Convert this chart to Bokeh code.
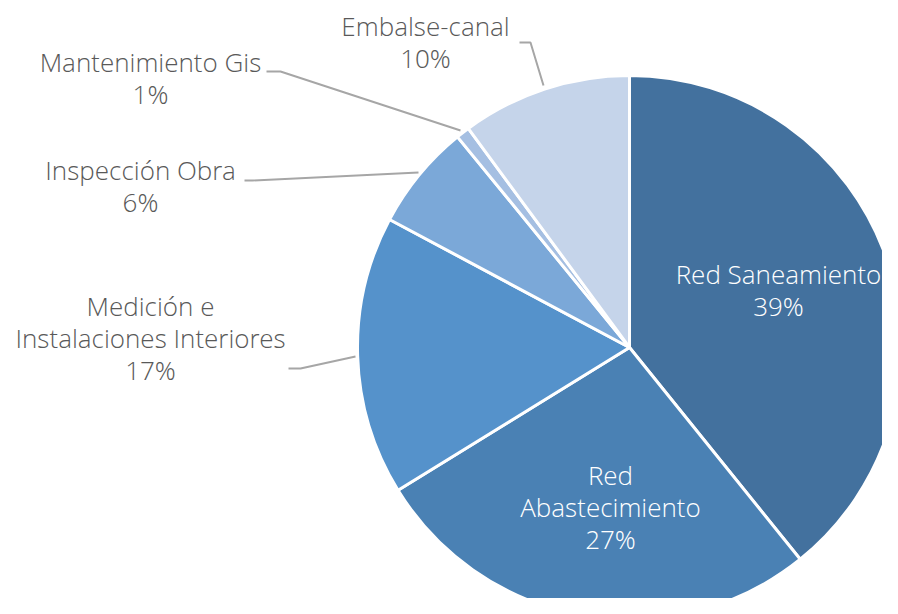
import math
from bokeh.plotting import figure
from bokeh.models import Range1d, ColumnDataSource
from bokeh.core.properties import value
from bokeh.embed import file_html
from bokeh.resources import INLINE

# ---- data ----
categories = ["Red Saneamiento", "Red Abastecimiento",
              "Medición e Instalaciones Interiores", "Inspección Obra",
              "Mantenimiento Gis", "Embalse-canal"]
label_lines = [["Red Saneamiento"], ["Red", "Abastecimiento"],
               ["Medición e", "Instalaciones Interiores"], ["Inspección Obra"],
               ["Mantenimiento Gis"], ["Embalse-canal"]]
shares = [39.2, 27.0, 16.6, 6.3, 0.8, 10.1]
colors = ["#43719E", "#4A81B4", "#5592CB", "#7BA8D8", "#A5BFE2", "#C5D4EA"]

# ---- layout (reference pixel coordinates, y downward) ----
W, H = 882, 598
CX, CY, R = 629, 347, 272
label_pos = [(778, 289), (610, 506), (150, 337), (140, 185), (150, 77), (425, 41)]
label_inside = [True, True, False, False, False, False]
leaders = [None, None,
           [(288, 368), (300, 368), (355, 356)],
           [(244, 180), (252, 180), (418, 172)],
           [(266, 71), (280, 71), (460, 130)],
           [(519, 42), (530, 42), (543, 85)]]
LINE_H = 32
FONT = "Open Sans Light, Lato Light, Lato"
FS = "26px"

def fy(Y):
    return 614 - Y

p = figure(width=W, height=H, x_range=Range1d(0, W), y_range=Range1d(614 - H, 614),
           output_backend="svg", toolbar_location=None, min_border=0)
p.axis.visible = False
p.grid.visible = False
p.outline_line_color = None
p.background_fill_color = "white"
p.border_fill_color = "white"

total = sum(shares)
starts, ends = [], []
cum = 0.0
for s in shares:
    starts.append(math.pi / 2 - 2 * math.pi * cum / total)
    cum += s
    ends.append(math.pi / 2 - 2 * math.pi * cum / total)

src = ColumnDataSource(dict(start=starts, end=ends, color=colors, cat=categories))
p.wedge(x=CX, y=fy(CY), radius=R, start_angle="start", end_angle="end",
        direction="clock", fill_color="color", line_color="white", line_width=3,
        source=src)

for lead in leaders:
    if lead is None:
        continue
    p.line([pt[0] for pt in lead], [fy(pt[1]) for pt in lead],
           line_color="#A6A6A6", line_width=2)

tx, ty, tt, tc = [], [], [], []
for i, lines in enumerate(label_lines):
    pct = f"{round(shares[i] / total * 100)}%"
    all_lines = lines + [pct]
    n = len(all_lines)
    bx, by = label_pos[i]
    for j, ln in enumerate(all_lines):
        tx.append(bx)
        ty.append(fy(by + (j - (n - 1) / 2) * LINE_H))
        tt.append(ln)
        tc.append("white" if label_inside[i] else "#595959")

p.text(x=tx, y=ty, text=tt, text_color=tc, text_align="center",
       text_baseline="middle", text_font=value(FONT), text_font_size=FS)

open("out.html", "w").write(file_html(p, INLINE))
